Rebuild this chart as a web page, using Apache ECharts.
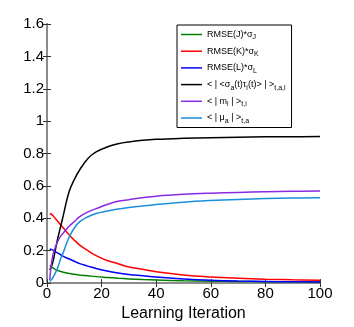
<!DOCTYPE html>
<html>
<head>
<meta charset="utf-8">
<script src="https://cdn.jsdelivr.net/npm/echarts@6/dist/echarts.min.js"></script>
<style>
  html, body { margin: 0; padding: 0; background: #fff; }
  #chart { width: 354px; height: 327px; }
</style>
</head>
<body>
<div id="chart"></div>
<script>
const iters = [1, 2, 3, 4, 5, 6, 8, 10, 12, 15, 18, 22, 26, 30, 35, 40, 50, 60, 70, 80, 90, 100]

const rmseJ = [0.11, 0.095, 0.085, 0.078, 0.072, 0.067, 0.06, 0.054, 0.05, 0.045, 0.04, 0.035, 0.03, 0.026, 0.022, 0.019, 0.015, 0.012, 0.01, 0.009, 0.008, 0.007]
const rmseK = [0.43, 0.42, 0.40, 0.38, 0.36, 0.34, 0.30, 0.265, 0.235, 0.20, 0.17, 0.14, 0.12, 0.10, 0.085, 0.07, 0.05, 0.038, 0.03, 0.024, 0.02, 0.017]
const rmseL = [0.21, 0.205, 0.195, 0.185, 0.175, 0.165, 0.15, 0.135, 0.12, 0.105, 0.09, 0.075, 0.063, 0.053, 0.045, 0.037, 0.026, 0.018, 0.013, 0.01, 0.008, 0.007]
const sigmaTau = [0.08, 0.12, 0.2, 0.28, 0.35, 0.42, 0.56, 0.64, 0.70, 0.77, 0.81, 0.84, 0.86, 0.872, 0.882, 0.888, 0.894, 0.898, 0.901, 0.903, 0.904, 0.905]
const mAbs = [0.02, 0.16, 0.22, 0.26, 0.29, 0.31, 0.35, 0.38, 0.41, 0.44, 0.46, 0.485, 0.505, 0.515, 0.527, 0.537, 0.548, 0.555, 0.56, 0.564, 0.567, 0.568]
const muAbs = [0.01, 0.03, 0.06, 0.10, 0.15, 0.19, 0.28, 0.34, 0.38, 0.41, 0.43, 0.445, 0.458, 0.467, 0.476, 0.485, 0.50, 0.51, 0.517, 0.522, 0.525, 0.527]

const seriesNames = ["rmseJ", "rmseK", "rmseL", "sigmaTau", "mAbs", "muAbs"]
const legendLabels = [
  "RMSE(J)*σ{s|J}",
  "RMSE(K)*σ{s|K}",
  "RMSE(L)*σ{s|L}",
  "< | <σ{s|a}(t)τ{s|i}(t)> | >{s|t,a,i}",
  "< | m{s|i} | >{s|t,i}",
  "< | μ{s|a} | >{s|t,a}"
]
const colors = ["#008000", "#ff0000", "#0000ff", "#000000", "#8a2be2", "#1a8fd8"]
const values = [rmseJ, rmseK, rmseL, sigmaTau, mAbs, muAbs]

const chart = echarts.init(document.getElementById("chart"))

const font = "Liberation Sans, Arial, sans-serif"
const axisLine = { lineStyle: { color: "#8c8c8c", width: 2 } }
const tick = { inside: true, length: 4, lineStyle: { color: "#333" } }

chart.setOption({
  backgroundColor: "#fff",
  animation: false,
  grid: { left: 47, right: 34, top: 24, bottom: 37 },
  legend: {
    orient: "vertical",
    left: 177,
    top: 25,
    data: seriesNames,
    icon: "rect",
    itemWidth: 21,
    itemHeight: 1.5,
    itemGap: 3.7,
    padding: [3, 6, 3, 4],
    borderColor: "#000",
    borderWidth: 1,
    backgroundColor: "#fff",
    formatter: (name) => legendLabels[seriesNames.indexOf(name)],
    textStyle: {
      fontFamily: font,
      fontSize: 9,
      color: "#000",
      lineHeight: 12,
      rich: {
        s: { fontSize: 7, fontFamily: font, color: "#000", lineHeight: 12, padding: [6, 0, 0, 0] }
      }
    }
  },
  xAxis: [
    {
      type: "value", min: 0, max: 100, interval: 20,
      name: "Learning Iteration", nameLocation: "middle", nameGap: 14,
      nameTextStyle: { fontFamily: font, fontSize: 16, color: "#000" },
      axisLine: axisLine, axisTick: tick, splitLine: { show: false },
      axisLabel: { fontFamily: font, fontSize: 15, color: "#000", margin: 3 }
    },
    {
      type: "value", position: "top", min: 0, max: 100, interval: 20,
      axisLine: axisLine, axisTick: tick, splitLine: { show: false },
      axisLabel: { show: false }
    }
  ],
  yAxis: [
    {
      type: "value", min: 0, max: 1.6, interval: 0.2,
      axisLine: axisLine, axisTick: tick, splitLine: { show: false },
      axisLabel: { fontFamily: font, fontSize: 15, color: "#000", margin: 3 }
    },
    {
      type: "value", position: "right", min: 0, max: 1.6, interval: 0.2,
      axisLine: axisLine, axisTick: tick, splitLine: { show: false },
      axisLabel: { show: false }
    }
  ],
  series: seriesNames.map((name, i) => ({
    name: name,
    type: "line",
    smooth: 0.4,
    symbol: "none",
    data: iters.map((x, j) => [x, values[i][j]]),
    lineStyle: { color: colors[i], width: 1.5 },
    itemStyle: { color: colors[i] }
  }))
})
</script>
</body>
</html>
